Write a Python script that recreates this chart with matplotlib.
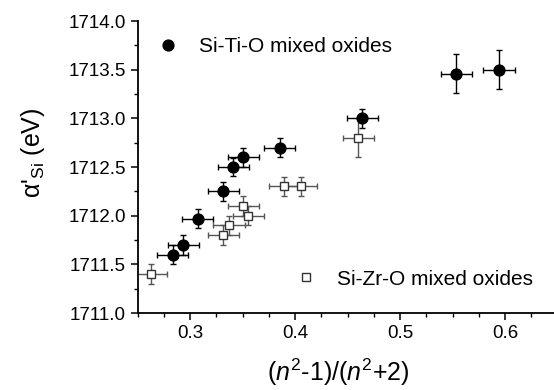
import matplotlib
matplotlib.use("Agg")
from matplotlib import pyplot as plt
from matplotlib.ticker import MultipleLocator, FormatStrFormatter

plt.rcParams['font.family'] = ['Liberation Sans', 'DejaVu Sans']
plt.rcParams['mathtext.fontset'] = 'custom'
plt.rcParams['mathtext.rm'] = 'Liberation Sans'
plt.rcParams['mathtext.it'] = 'Liberation Sans:italic'

# Si-Ti-O mixed oxides
ti_x = [0.2835, 0.2937, 0.3073, 0.3317, 0.3413, 0.3508, 0.3854, 0.4641, 0.5537, 0.5943]
ti_y = [1711.60, 1711.70, 1711.97, 1712.25, 1712.50, 1712.60, 1712.70, 1713.00, 1713.46, 1713.50]
ti_xerr = [0.015] * 10
ti_yerr = [0.1, 0.1, 0.1, 0.1, 0.09, 0.1, 0.1, 0.1, 0.2, 0.2]

# Si-Zr-O mixed oxides
zr_x = [0.2629, 0.3317, 0.3371, 0.3508, 0.3556, 0.3898, 0.4060, 0.4603]
zr_y = [1711.40, 1711.80, 1711.90, 1712.10, 1712.00, 1712.30, 1712.30, 1712.80]
zr_xerr = [0.015] * 8
zr_yerr = [0.1, 0.1, 0.1, 0.1, 0.1, 0.1, 0.1, 0.2]

fig = plt.figure(figsize=(5.54, 3.90), dpi=100)
ax = fig.add_axes((137.5/554, 1-313/390, 420/554, 292/390))

ax.errorbar(zr_x, zr_y, xerr=zr_xerr, yerr=zr_yerr, fmt='s', ms=6.3,
            mfc='white', mec='#333333', mew=1.0, ecolor='#555555',
            elinewidth=1.0, capsize=2.5, capthick=1.0, zorder=2)
ax.errorbar(ti_x, ti_y, xerr=ti_xerr, yerr=ti_yerr, fmt='o', ms=7.8,
            mfc='black', mec='black', ecolor='black',
            elinewidth=1.0, capsize=2.5, capthick=1.0, zorder=3)

h_ti, = ax.plot([], [], 'o', color='black', ms=7.8)
h_zr, = ax.plot([], [], 's', mfc='white', mec='#333333', ms=6.3)
leg1 = ax.legend([h_ti], ['Si-Ti-O mixed oxides'], loc='center left',
                 bbox_to_anchor=(0.053, 0.911), frameon=False, fontsize=15,
                 handlelength=0.8, handletextpad=1.1, borderpad=0, borderaxespad=0)
ax.add_artist(leg1)
ax.legend([h_zr], ['Si-Zr-O mixed oxides'], loc='center left',
          bbox_to_anchor=(0.381, 0.116), frameon=False, fontsize=15,
          handlelength=0.8, handletextpad=1.1, borderpad=0, borderaxespad=0)

ax.set_xlim(0.25, 0.65)
ax.set_ylim(1711.0, 1714.0)
ax.xaxis.set_major_locator(MultipleLocator(0.1))
ax.xaxis.set_minor_locator(MultipleLocator(0.025))
ax.yaxis.set_major_locator(MultipleLocator(0.5))
ax.yaxis.set_minor_locator(MultipleLocator(0.25))
ax.xaxis.set_major_formatter(FormatStrFormatter('%.1f'))
ax.yaxis.set_major_formatter(FormatStrFormatter('%.1f'))

for s in ['top', 'right']:
    ax.spines[s].set_visible(False)
for s in ['left', 'bottom']:
    ax.spines[s].set_linewidth(1.3)
ax.tick_params(which='major', direction='out', length=5, width=1.1, labelsize=13.5)
ax.tick_params(which='minor', direction='out', length=3, width=1.0)

ax.set_xlabel(r"($n^2$-1)/($n^2$+2)", fontsize=18)
ax.set_ylabel(r"α$'_{\rm Si}$ (eV)", fontsize=18)
ax.xaxis.set_label_coords(0.477, -0.15)
ax.yaxis.set_label_coords(-0.215, 0.548)

fig.savefig("out.png", dpi=100)
